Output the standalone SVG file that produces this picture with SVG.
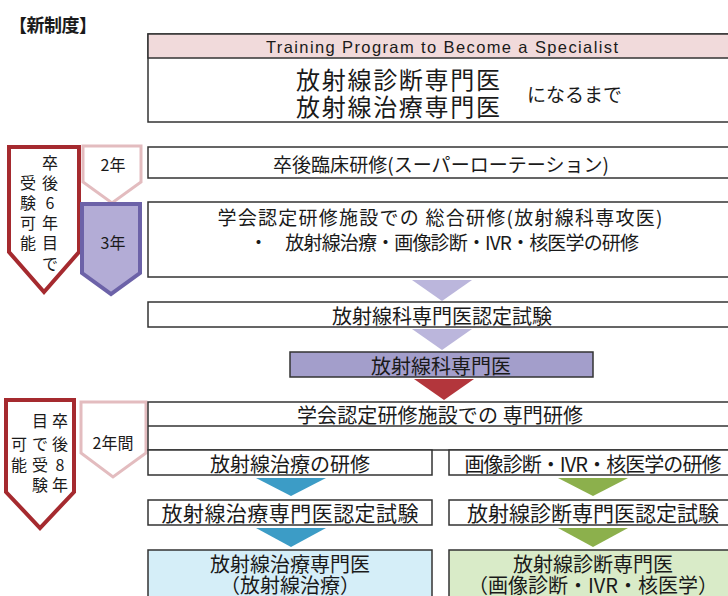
<svg xmlns="http://www.w3.org/2000/svg" width="728" height="596" viewBox="0 0 728 596">
<style>
text{font-family:"Noto Sans CJK JP","Noto Sans",sans-serif;fill:#1a1a1a;dominant-baseline:central}
.c{text-anchor:middle}
.box{fill:#fff;stroke:#333;stroke-width:1.5}
.lav{fill:#bbb6dc}
.blue{fill:#3c9cc6}
.green{fill:#8cb04c}
.red{fill:#b3363c}
.side{font-size:16px;text-anchor:middle}
</style>
<rect width="728" height="596" fill="#fff"/>
<text x="9" y="24" font-size="18" font-weight="bold" textLength="88">【新制度】</text>

<g id="header">
<rect x="148" y="34" width="592" height="88" class="box"/>
<rect x="148" y="34" width="592" height="24" fill="#f1dadb" stroke="#333" stroke-width="1.5"/>
<text x="442" y="47" class="c" font-size="16.5" textLength="352" style="font-family:'Liberation Sans','Noto Sans CJK JP',sans-serif">Training Program to Become a Specialist</text>
<text class="c" font-size="24"><tspan x="398" y="78" textLength="204">放射線診断専門医</tspan><tspan x="398" y="105" textLength="204">放射線治療専門医</tspan></text>
<text x="527" y="93" font-size="19">になるまで</text>
</g>

<g id="left-6yr">
<polygon points="9,147 79,147 79,252 44,292 9,252" fill="#fff" stroke="#a52a2f" stroke-width="4"/>
<text class="side"><tspan x="50" y="162">卒</tspan><tspan x="50" y="182">後</tspan><tspan x="50" y="202">6</tspan><tspan x="50" y="222">年</tspan><tspan x="50" y="242">目</tspan><tspan x="50" y="263">で</tspan></text>
<text class="side"><tspan x="28" y="182">受</tspan><tspan x="28" y="202">験</tspan><tspan x="28" y="222">可</tspan><tspan x="28" y="242">能</tspan></text>
</g>

<g id="left-2yr">
<polygon points="83,146 141,146 141,182 112,203 83,182" fill="#fff" stroke="#e3bcbf" stroke-width="3"/>
<text class="side" x="113" y="164" font-size="18">2年</text>
</g>

<g id="left-3yr">
<polygon points="82,204 140,204 140,273 111,294 82,273" fill="#b3acd6" stroke="#6c62a8" stroke-width="4"/>
<text class="side" x="113" y="242" font-size="18">3年</text>
</g>

<g id="left-8yr">
<polygon points="6,400 74,400 74,492 40,528 6,492" fill="#fff" stroke="#a52a2f" stroke-width="4"/>
<text class="side"><tspan x="60" y="420">卒</tspan><tspan x="60" y="443">後</tspan><tspan x="60" y="464">8</tspan><tspan x="60" y="484">年</tspan></text>
<text class="side"><tspan x="40" y="420">目</tspan><tspan x="40" y="443">で</tspan><tspan x="40" y="464">受</tspan><tspan x="40" y="484">験</tspan></text>
<text class="side"><tspan x="19" y="443">可</tspan><tspan x="19" y="464">能</tspan></text>
</g>

<g id="left-2yr-b">
<polygon points="81,402 146,402 146,453 113,477 81,453" fill="#fff" stroke="#e3bcbf" stroke-width="3"/>
<text class="side" x="113" y="442" font-size="19">2年間</text>
</g>

<g id="rotation">
<rect x="148" y="147" width="592" height="31" class="box"/>
<text x="441" y="163" class="c" font-size="19" textLength="336">卒後臨床研修(スーパーローテーション)</text>
</g>

<g id="general-training">
<rect x="148" y="202" width="592" height="75" class="box"/>
<text class="c" font-size="19"><tspan x="440" y="216" textLength="445">学会認定研修施設での 総合研修(放射線科専攻医)</tspan><tspan x="444" y="241" textLength="390">・　放射線治療・画像診断・IVR・核医学の研修</tspan></text>
</g>

<g id="exam-radiology">
<rect x="148" y="302" width="592" height="25" class="box"/>
<text x="442" y="315" class="c" font-size="20">放射線科専門医認定試験</text>
</g>

<g id="radiologist">
<rect x="290" y="352" width="303" height="25" fill="#a39ecb" stroke="#333" stroke-width="1.5"/>
<text x="441" y="365" class="c" font-size="20">放射線科専門医</text>
</g>

<g id="specialty-training">
<rect x="148" y="402" width="592" height="48" class="box"/>
<line x1="148" y1="426" x2="740" y2="426" stroke="#333" stroke-width="1.5"/>
<text x="440" y="414" class="c" font-size="20" textLength="286">学会認定研修施設での 専門研修</text>
</g>

<g id="rt-training">
<rect x="148" y="450" width="284" height="25" class="box"/>
<text x="290" y="463" class="c" font-size="20">放射線治療の研修</text>
</g>
<g id="dx-training">
<rect x="449" y="450" width="291" height="25" class="box"/>
<text x="593" y="463" class="c" font-size="20" textLength="257">画像診断・IVR・核医学の研修</text>
</g>

<g id="rt-exam">
<rect x="148" y="500" width="284" height="25" class="box"/>
<text x="290" y="512" class="c" font-size="21" textLength="257">放射線治療専門医認定試験</text>
</g>
<g id="dx-exam">
<rect x="449" y="500" width="291" height="25" class="box"/>
<text x="593" y="512" class="c" font-size="21" textLength="252">放射線診断専門医認定試験</text>
</g>

<g id="rt-specialist">
<rect x="148" y="550" width="284" height="60" fill="#d5eef8" stroke="#333" stroke-width="1.5"/>
<text class="c" font-size="20"><tspan x="290" y="563">放射線治療専門医</tspan><tspan x="290" y="584">（放射線治療）</tspan></text>
</g>
<g id="dx-specialist">
<rect x="449" y="550" width="291" height="60" fill="#d9ebc8" stroke="#333" stroke-width="1.5"/>
<text class="c" font-size="20"><tspan x="593" y="563">放射線診断専門医</tspan><tspan x="593" y="584">（画像診断・IVR・核医学）</tspan></text>
</g>

<g id="connectors">
<polygon class="lav" points="412,280 472,280 442,301"/>
<polygon class="lav" points="412,329 472,329 442,350"/>
<polygon class="red" points="414,379 474,379 444,400"/>
<polygon class="blue" points="256,478 326,478 291,496"/>
<polygon class="green" points="558,478 628,478 593,496"/>
<polygon class="blue" points="256,528 326,528 291,547"/>
<polygon class="green" points="558,528 628,528 593,547"/>
</g>
</svg>
